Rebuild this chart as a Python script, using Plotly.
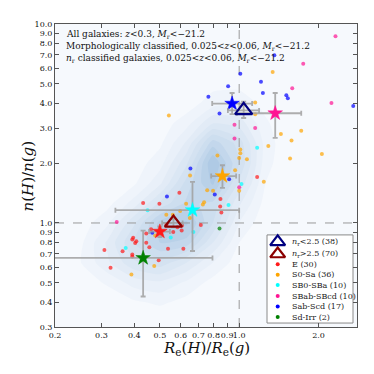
import math
import plotly.graph_objects as go

# ---------------- data ----------------
E_x = [0.308, 0.325, 0.361, 0.393, 0.393, 0.396, 0.393, 0.407, 0.403, 0.444, 0.456, 0.537, 0.614, 0.495,
       0.444, 0.463, 0.53, 0.562, 0.605, 0.607, 0.583, 0.715, 0.432, 0.498, 0.593, 0.847, 0.856, 1.17, 0.849]
E_y = [0.731, 0.596, 0.72, 0.694, 0.678, 0.842, 0.827, 0.81, 0.792, 0.796, 0.754, 0.743, 0.743, 0.65,
       0.885, 0.93, 0.981, 0.902, 0.916, 0.97, 0.951, 0.977, 1.26, 1.25, 1.42, 1.21, 1.13, 1.70, 1.32]

S0_x = [0.39, 0.476, 0.48, 0.529, 0.56, 0.597, 0.65, 0.629, 0.728, 0.736, 0.756, 0.796, 0.651, 0.827,
        0.965, 1.0, 1.24, 1.01, 1.01, 1.0, 1.07, 1.29, 1.44, 1.72, 1.58, 1.56, 2.06, 1.15, 1.15, 0.541, 1.34]
S0_y = [0.55, 0.607, 0.865, 1.10, 1.10, 1.15, 1.06, 1.25, 1.24, 1.27, 1.46, 1.45, 1.73, 2.18,
        1.84, 1.45, 1.61, 2.34, 2.24, 2.12, 2.09, 2.44, 2.80, 2.91, 2.60, 2.11, 2.22, 4.03, 3.52, 3.47, 5.74]

SB0_x = [0.371, 0.449, 0.55, 0.67, 0.911, 1.02, 1.17]
SB0_y = [0.748, 1.16, 0.846, 0.902, 1.23, 1.57, 2.39]

SBab_x = [0.343, 0.96, 0.96, 1.15, 1.0, 1.59, 1.75, 2.32, 2.24]
SBab_y = [1.01, 3.12, 2.66, 3.0, 1.51, 4.76, 6.31, 8.69, 4.01]

Sab_x = [0.468, 0.532, 0.653, 0.808, 0.916, 0.842, 0.764, 0.908, 1.01, 1.21, 1.23, 1.51, 1.53, 1.36, 2.71]
Sab_y = [0.892, 1.36, 1.88, 1.39, 1.66, 3.55, 4.31, 4.87, 5.63, 5.12, 4.50, 4.39, 4.24, 6.97, 3.87]

Sd_x = [0.842]
Sd_y = [0.937]

# medians (stars) per morphological class with error ranges
star_names = ["E", "S0-Sa", "SB0-SBa", "SBab-SBcd", "Sab-Scd", "Sd-Irr"]
star_x = [0.50, 0.864, 0.665, 1.37, 0.94, 0.432]
star_xlo = [0.455, 0.783, 0.339, 0.98, 0.79, 0.19]
star_xhi = [0.546, 0.974, 1.0, 1.72, 1.12, 0.792]
star_y = [0.905, 1.72, 1.16, 3.56, 3.98, 0.667]
star_ylo = [0.85, 1.50, 0.723, 2.68, 3.52, 0.427]
star_yhi = [0.96, 1.95, 1.61, 4.50, 4.50, 0.915]

# medians for n_r classes (triangles)
tri_x = [1.04, 0.563]
tri_xlo = [0.906, 0.51]
tri_xhi = [1.19, 0.61]
tri_y = [3.68, 1.0]
tri_ylo = [3.37, 0.95]
tri_yhi = [4.07, 1.05]

class_labels = ["E (30)", "S0-Sa (36)", "SB0-SBa (10)", "SBab-SBcd (10)", "Sab-Scd (17)", "Sd-Irr (2)"]
tri_labels = ["<i>n</i><sub>r</sub>&lt;2.5 (38)", "<i>n</i><sub>r</sub>&gt;2.5 (70)"]

# density of all galaxies (estimated on a log grid)
dens_xlog = [-0.7, -0.6, -0.5, -0.4, -0.3, -0.2, -0.1, 0.0, 0.1, 0.2, 0.3, 0.4, 0.5]
dens_ylog = [-0.6, -0.5, -0.4, -0.3, -0.2, -0.1, 0.0, 0.1, 0.2, 0.3, 0.4, 0.5, 0.6, 0.7, 0.8, 0.9, 1.0]
dens_z = [
    [0, 0, 0, 0, 0, 0, 0, 0, 0, 0, 0, 0, 0],
    [0, 0, 0, 0, 0, 0, 0, 0, 0, 0, 0, 0, 0],
    [0, 0, 0, 0.4, 0.6, 0.3, 0, 0, 0, 0, 0, 0, 0],
    [0, 0.1, 0.6, 1.2, 1.4, 0.9, 0.3, 0, 0, 0, 0, 0, 0],
    [0, 0.5, 1.4, 2.4, 2.8, 2.0, 1.0, 0.2, 0, 0, 0, 0, 0],
    [0, 0.4, 1.6, 3.0, 4.0, 3.8, 2.0, 0.5, 0, 0, 0, 0, 0],
    [0, 0.2, 0.9, 2.4, 4.2, 4.6, 3.0, 1.0, 0.1, 0, 0, 0, 0],
    [0, 0, 0.3, 1.2, 2.6, 3.6, 3.4, 1.6, 0.3, 0, 0, 0, 0],
    [0, 0, 0, 0.4, 1.4, 3.2, 4.6, 2.4, 0.5, 0, 0, 0, 0],
    [0, 0, 0, 0.2, 0.8, 2.4, 5.0, 3.0, 0.7, 0, 0, 0, 0],
    [0, 0, 0, 0, 0.4, 1.6, 3.8, 2.8, 0.8, 0, 0, 0, 0],
    [0, 0, 0, 0, 0.2, 0.8, 2.0, 1.8, 0.6, 0, 0, 0, 0],
    [0, 0, 0, 0, 0, 0.2, 0.8, 0.9, 0.3, 0, 0, 0, 0],
    [0, 0, 0, 0, 0, 0, 0.3, 0.3, 0, 0, 0, 0, 0],
    [0, 0, 0, 0, 0, 0, 0, 0, 0, 0, 0, 0, 0],
    [0, 0, 0, 0, 0, 0, 0, 0, 0, 0, 0, 0, 0],
    [0, 0, 0, 0, 0, 0, 0, 0, 0, 0, 0, 0, 0],
]

x_ticks = [0.2, 0.3, 0.4, 0.5, 0.6, 0.7, 0.8, 0.9, 1.0, 2.0]
x_ticktext = ["0.2", "0.3", "0.4", "0.5", "0.6", "0.7", "0.8", "0.9", "1.0", "2.0"]
y_ticks = [0.3, 0.4, 0.5, 0.6, 0.7, 0.8, 0.9, 1.0, 2.0, 3.0, 4.0, 5.0, 6.0, 7.0, 8.0, 9.0, 10.0]
y_ticktext = ["0.3", "0.4", "0.5", "0.6", "0.7", "0.8", "0.9", "1.0", "2.0", "3.0", "4.0",
              "5.0", "6.0", "7.0", "8.0", "9.0", "10.0"]

# ---------------- styles ----------------
FONT = "DejaVu Serif"
BG = "#f6f9fd"
class_colors = ["#ff1a1a", "#ffa500", "#00ffff", "#ff1493", "#0000ff", "#008000"]
tri_colors = ["#000080", "#8b0000"]
ERR = "rgba(160,160,160,0.85)"

X_RANGE = (0.2, 2.8)
Y_RANGE = (0.3, 10.0)

# page has an 8px body margin: build the figure 8px smaller so page positions match
OFF = 8
W = H = 374 - OFF
PX0, PX1, PY0, PY1 = 55, 357, 21, 327  # desired plot area, page px


def fx(px):
    return (px - PX0) / (PX1 - PX0)


def fy(py):
    return (PY1 - py) / (PY1 - PY0)


fig = go.Figure()

fig.add_trace(go.Contour(
    x=[10 ** v for v in dens_xlog], y=[10 ** v for v in dens_ylog], z=dens_z,
    contours=dict(start=0.5, end=5.0, size=0.5, coloring="fill", showlines=False),
    colorscale=[[0, BG], [0.15, "#ecf2fa"], [0.6, "#cddeef"], [1, "#a5c3e1"]],
    line=dict(width=0, smoothing=0.5), showscale=False, hoverinfo="skip",
))

# reference lines
fig.add_trace(go.Scatter(x=[1.0, 1.0], y=list(Y_RANGE), mode="lines", hoverinfo="skip",
                         line=dict(color="#999999", width=1, dash="dash"), showlegend=False))
fig.add_trace(go.Scatter(x=list(X_RANGE), y=[1.0, 1.0], mode="lines", hoverinfo="skip",
                         line=dict(color="#999999", width=1, dash="dash"), showlegend=False))

groups = [(E_x, E_y), (S0_x, S0_y), (SB0_x, SB0_y), (SBab_x, SBab_y), (Sab_x, Sab_y), (Sd_x, Sd_y)]
for (gx, gy), col in zip(groups, class_colors):
    fig.add_trace(go.Scatter(x=gx, y=gy, mode="markers", showlegend=False,
                             marker=dict(size=4, color=col, opacity=0.7, line=dict(width=0))))

# stars with error bars
for i, col in enumerate(class_colors):
    fig.add_trace(go.Scatter(
        x=[star_x[i]], y=[star_y[i]], mode="markers", showlegend=False,
        error_x=dict(type="data", array=[star_xhi[i] - star_x[i]], arrayminus=[star_x[i] - star_xlo[i]],
                     color=ERR, thickness=1.8, width=2.5),
        error_y=dict(type="data", array=[star_yhi[i] - star_y[i]], arrayminus=[star_y[i] - star_ylo[i]],
                     color=ERR, thickness=1.8, width=2.5),
        marker=dict(symbol="star", size=11, color=col, line=dict(width=0.5, color=col)),
    ))

for i, col in enumerate(tri_colors):
    fig.add_trace(go.Scatter(
        x=[tri_x[i]], y=[tri_y[i]], mode="markers", showlegend=False,
        error_x=dict(type="data", array=[tri_xhi[i] - tri_x[i]], arrayminus=[tri_x[i] - tri_xlo[i]],
                     color=ERR, thickness=1.8, width=2.5),
        error_y=dict(type="data", array=[tri_yhi[i] - tri_y[i]], arrayminus=[tri_y[i] - tri_ylo[i]],
                     color=ERR, thickness=1.8, width=2.5),
        marker=dict(symbol="triangle-up-open", size=15, color=col, line=dict(width=2.2, color=col)),
    ))

# ---------------- custom legend on an overlay axis (plot fractions) ----------------
L, R, T, B = 267, 353, 234, 323
fig.add_trace(go.Scatter(
    x=[fx(L), fx(R), fx(R), fx(L), fx(L)], y=[fy(B), fy(B), fy(T), fy(T), fy(B)],
    xaxis="x2", yaxis="y2", mode="lines", fill="toself", fillcolor="rgba(255,255,255,0.92)",
    line=dict(color="#8a8a8a", width=1), showlegend=False, hoverinfo="skip"))

row_py = [241, 253.3, 263.7, 274.3, 284.7, 295.7, 306.3, 317]
leg_labels = tri_labels + class_labels
for i in range(2):
    fig.add_trace(go.Scatter(x=[fx(277.7)], y=[fy(row_py[i])], xaxis="x2", yaxis="y2", mode="markers",
                             showlegend=False, hoverinfo="skip",
                             marker=dict(symbol="triangle-up-open", size=13, color=tri_colors[i],
                                         line=dict(width=2.2, color=tri_colors[i]))))
for i, col in enumerate(class_colors):
    fig.add_trace(go.Scatter(x=[fx(277.7)], y=[fy(row_py[i + 2])], xaxis="x2", yaxis="y2", mode="markers",
                             showlegend=False, hoverinfo="skip",
                             marker=dict(size=4, color=col)))
for i, lab in enumerate(leg_labels):
    fig.add_annotation(xref="paper", yref="paper", x=fx(290), y=fy(row_py[i]), text=lab,
                       showarrow=False, xanchor="left", yanchor="middle",
                       font=dict(family=FONT, size=8, color="#222"))

# header texts
header = [
    "All galaxies: <i>z</i>&lt;0.3, <i>M</i><sub>r</sub>&lt;−21.2",
    "Morphologically classified, 0.025&lt;<i>z</i>&lt;0.06, <i>M</i><sub>r</sub>&lt;−21.2",
    "<i>n</i><sub>r</sub> classified galaxies, 0.025&lt;<i>z</i>&lt;0.06, <i>M</i><sub>r</sub>&lt;−21.2",
]
for i, t in enumerate(header):
    fig.add_annotation(xref="paper", yref="paper", x=fx(64), y=fy(32 + 11.7 * i), text=t,
                       showarrow=False, xanchor="left", yanchor="middle",
                       font=dict(family=FONT, size=9, color="#111"))

# axis titles
fig.add_annotation(xref="paper", yref="paper", x=fx(206), y=fy(349),
                   text="<i>R</i><sub>e</sub>(<i>H</i>)/<i>R</i><sub>e</sub>(<i>g</i>)",
                   showarrow=False, xanchor="center", yanchor="middle",
                   font=dict(family=FONT, size=15, color="#111"))
fig.add_annotation(xref="paper", yref="paper", x=fx(28), y=fy(175),
                   text="<i>n</i>(<i>H</i>)/<i>n</i>(<i>g</i>)", textangle=-90,
                   showarrow=False, xanchor="center", yanchor="middle",
                   font=dict(family=FONT, size=15, color="#111"))

axis_common = dict(showline=True, linecolor="#555555", linewidth=1, mirror="ticks", ticks="inside",
                   ticklen=4, tickcolor="#555555", showgrid=False, zeroline=False, tickangle=0,
                   tickfont=dict(family=FONT, size=8, color="#111"))

fig.update_layout(
    width=W, height=H,
    margin=dict(l=PX0 - OFF, r=374 - PX1, t=PY0 - OFF, b=374 - PY1, pad=0),
    paper_bgcolor="white", plot_bgcolor=BG,
    showlegend=False,
    xaxis=dict(type="log", range=[math.log10(X_RANGE[0]), math.log10(X_RANGE[1])],
               tickvals=x_ticks, ticktext=x_ticktext, **axis_common),
    yaxis=dict(type="log", range=[math.log10(Y_RANGE[0]), math.log10(Y_RANGE[1])],
               tickvals=y_ticks, ticktext=y_ticktext, **axis_common),
    xaxis2=dict(overlaying="x", range=[0, 1], visible=False, fixedrange=True),
    yaxis2=dict(overlaying="y", range=[0, 1], visible=False, fixedrange=True),
)

fig.write_html("out.html")
